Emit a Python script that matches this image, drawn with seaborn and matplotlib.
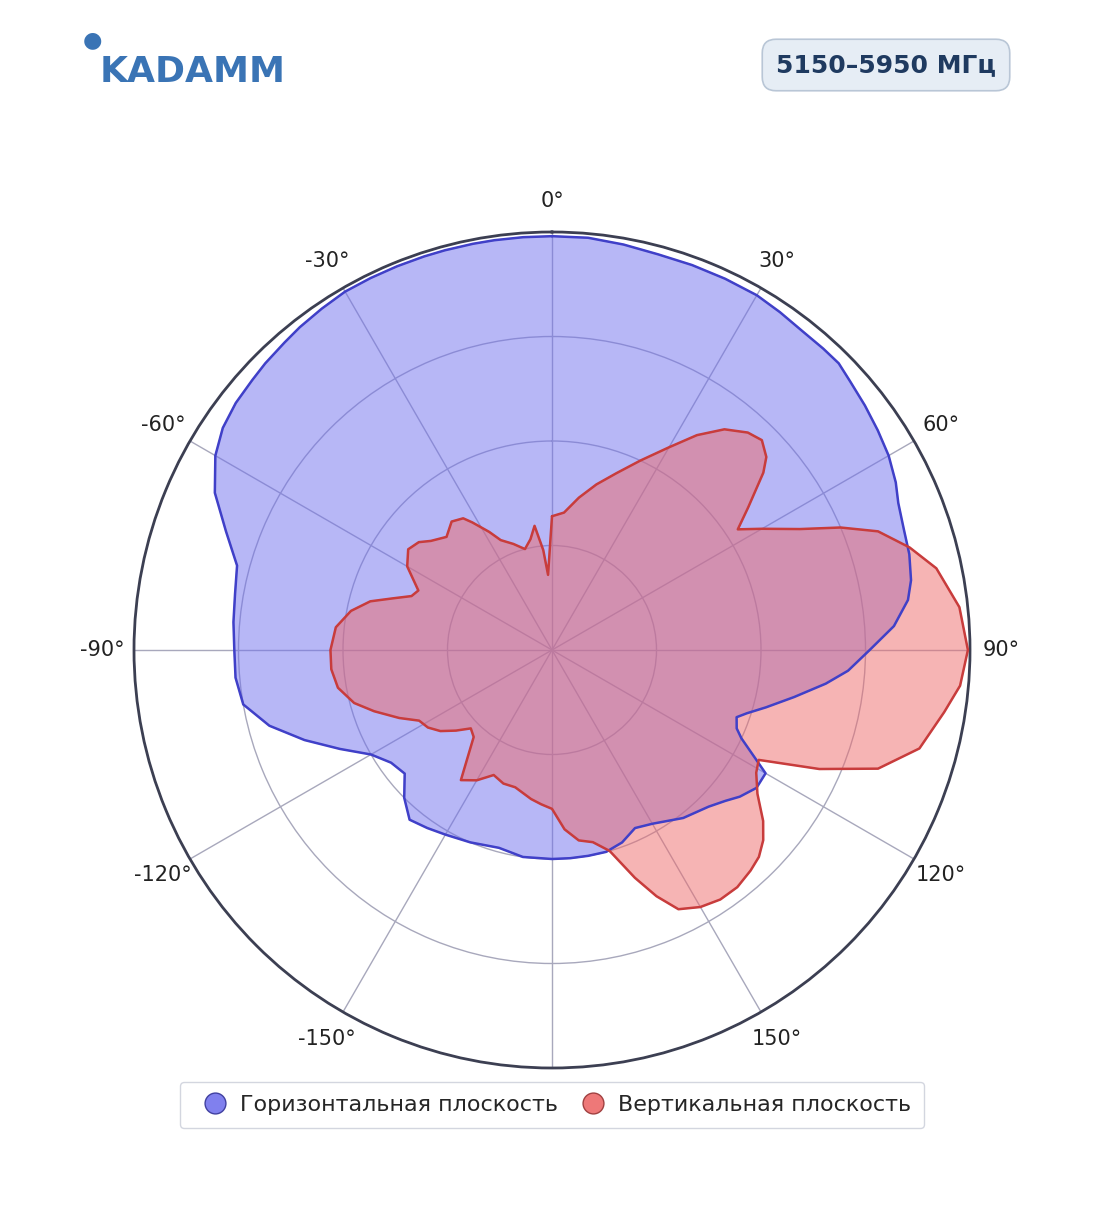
import matplotlib
matplotlib.use("Agg")
import matplotlib.pyplot as plt
import numpy as np
import seaborn as sns
from matplotlib.lines import Line2D

sns.set_style("white")
plt.rcParams['font.family'] = ['DejaVu Sans']

# angle in degrees (clockwise from top), relative level (0..1)
h_ang = [0, 5, 10, 15, 20, 25, 30, 34, 38, 42, 45, 48, 52, 56, 60, 64, 67, 71, 75, 79,
         82, 86, 90, 94, 97, 101, 105, 108, 110, 113, 115, 118, 120, 124, 128, 131,
         135, 142, 150, 155, 160, 165, 170, 175, 180, 188, 195, 203, 210, 215, 220, 225,
         230, 235, 240, 245, 250, 255, 260, 265, 270, 275, 280, 285, 290, 295, 300, 304,
         308, 312, 315, 319, 322, 326, 330, 334, 338, 342, 345, 349, 352, 356, 360]
h_val = [0.99, 0.99, 0.985, 0.98, 0.98, 0.98, 0.98, 0.975, 0.97, 0.97, 0.97, 0.96, 0.95,
         0.94, 0.93, 0.915, 0.90, 0.89, 0.885, 0.875, 0.86, 0.82, 0.76, 0.71, 0.66,
         0.59, 0.53, 0.49, 0.47, 0.48, 0.50, 0.55, 0.59, 0.59, 0.57, 0.55, 0.53, 0.51,
         0.48, 0.47, 0.49, 0.50, 0.50, 0.50, 0.50, 0.50, 0.49, 0.50, 0.51, 0.52, 0.53,
         0.50, 0.46, 0.47, 0.50, 0.56, 0.63, 0.70, 0.75, 0.76, 0.76, 0.765, 0.77, 0.78,
         0.83, 0.89, 0.93, 0.95, 0.96, 0.965, 0.97, 0.975, 0.98, 0.985, 0.99, 0.99, 0.99,
         0.99, 0.99, 0.99, 0.99, 0.99, 0.99]

v_ang = [0, 5, 10, 15, 20, 25, 30, 34, 38, 42, 45, 48, 50, 54, 57, 60, 64, 67, 70, 74,
         78, 84, 90, 95, 99, 105, 110, 114, 118, 121, 125, 129, 132, 135, 138, 142, 146,
         150, 154, 157, 160, 164, 168, 172, 176, 180, 184, 188, 195, 200, 205, 210, 215,
         222, 226, 230, 234, 238, 242, 246, 251, 255, 260, 265, 270, 276, 281, 285, 288,
         291, 294, 300, 305, 309, 312, 317, 322, 326, 328, 332, 335, 340, 345, 349, 352,
         355, 357, 360]
v_val = [0.32, 0.33, 0.37, 0.41, 0.45, 0.50, 0.56, 0.62, 0.67, 0.70, 0.71, 0.69, 0.66,
         0.58, 0.53, 0.58, 0.66, 0.75, 0.83, 0.89, 0.94, 0.98, 0.995, 0.98, 0.95, 0.91,
         0.83, 0.70, 0.56, 0.57, 0.60, 0.65, 0.68, 0.70, 0.71, 0.72, 0.72, 0.71, 0.69,
         0.64, 0.58, 0.50, 0.47, 0.46, 0.43, 0.38, 0.37, 0.36, 0.34, 0.34, 0.33, 0.36,
         0.38, 0.28, 0.27, 0.30, 0.33, 0.35, 0.36, 0.40, 0.45, 0.49, 0.52, 0.53, 0.53,
         0.52, 0.49, 0.45, 0.40, 0.36, 0.35, 0.40, 0.42, 0.41, 0.39, 0.37, 0.39, 0.38,
         0.36, 0.32, 0.29, 0.27, 0.25, 0.27, 0.30, 0.24, 0.18, 0.32]

tick_deg = np.arange(0, 360, 30)
tick_lbl = ["0°", "30°", "60°", "90°", "120°", "150°", "",
            "-150°", "-120°", "-90°", "-60°", "-30°"]

W, H = 1104, 1211
fig = plt.figure(figsize=(W / 100, H / 100), dpi=100)
cx, cy, R = 552, 650, 418
ax = fig.add_axes([(cx - R) / W, (H - cy - R) / H, 2 * R / W, 2 * R / H], projection='polar')
ax.set_theta_zero_location('N')
ax.set_theta_direction(-1)
ax.set_ylim(0, 1)
ax.set_yticks([0.25, 0.5, 0.75, 1.0])
ax.set_yticklabels([])
ax.set_xticks(np.deg2rad(tick_deg))
ax.set_xticklabels(tick_lbl, fontsize=15, color='#222222')
ax.tick_params(axis='x', pad=12)
ax.grid(True, color='#a8a8bc', linewidth=1)
ax.spines['polar'].set_color('#3c3f52')
ax.spines['polar'].set_linewidth(2)

for ang, val, face, edge in [(h_ang, h_val, '#7070ee', '#4040c8'),
                             (v_ang, v_val, '#ee6b6b', '#c83c3c')]:
    t = np.deg2rad(ang)
    ax.fill(t, val, color=face, alpha=0.5, zorder=2)
    ax.plot(t, val, color=edge, linewidth=1.8, zorder=3)

# logo
fig.text(100 / W, 1 - 72 / H, "KADAMM", fontsize=26, fontweight='bold',
         color='#3a74b5', va='center', ha='left')
fig.text(92 / W, 1 - 40 / H, "●", fontsize=16, color='#3a74b5', va='center', ha='center')

# frequency badge
fig.text(886 / W, 1 - 65 / H, "5150–5950 МГц", fontsize=18, fontweight='bold',
         color='#1f3a60', ha='center', va='center',
         bbox=dict(boxstyle='round,pad=0.55', fc='#e6edf5', ec='#b9c6d6', lw=1.2))

handles = [Line2D([], [], marker='o', ls='', ms=15, mfc='#8080ee', mec='#4040a0',
                  label='Горизонтальная плоскость'),
           Line2D([], [], marker='o', ls='', ms=15, mfc='#ee7878', mec='#a04040',
                  label='Вертикальная плоскость')]
fig.legend(handles=handles, loc='center', bbox_to_anchor=(552 / W, 1 - 1105 / H),
           ncol=2, fontsize=16, frameon=True, edgecolor='#c8ccd8', handletextpad=0.1,
           columnspacing=0.6, borderpad=0.6, fancybox=True)

fig.savefig("out.png", dpi=100)
